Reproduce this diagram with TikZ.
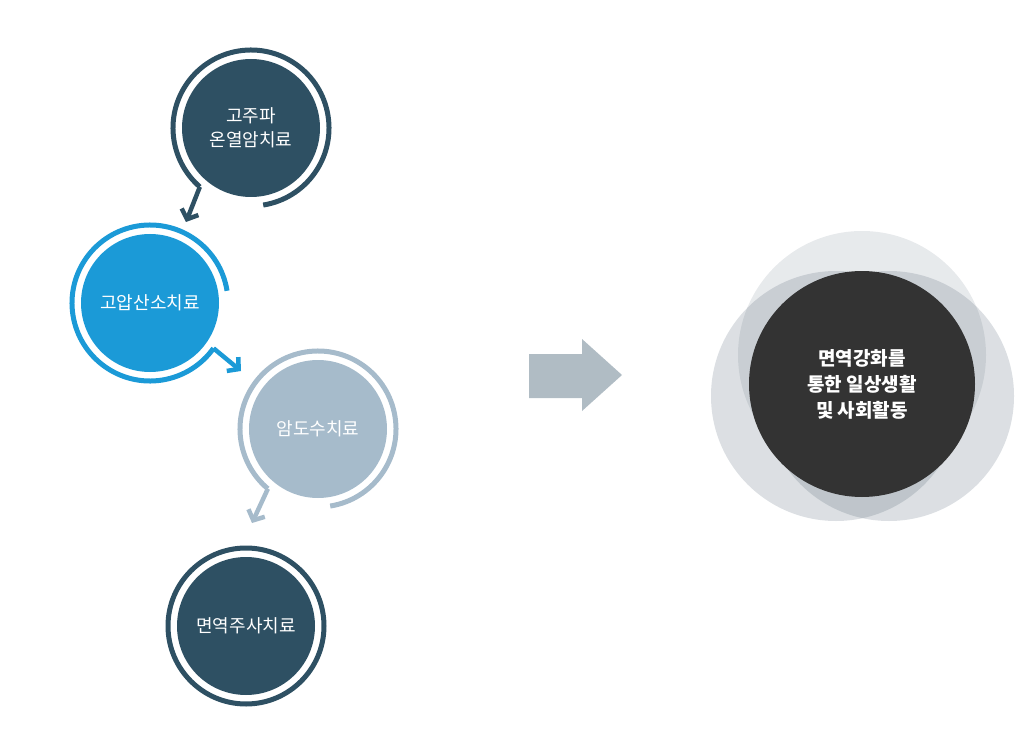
\documentclass[tikz,border=0pt]{standalone}
\usepackage{fontspec}
\newfontfamily\kr{Noto Sans CJK KR}
\usetikzlibrary{arrows.meta}
\definecolor{cdark}{HTML}{2E5063}
\definecolor{cblue}{HTML}{1B9AD7}
\definecolor{clight}{HTML}{A6BBCB}
\definecolor{cbig}{HTML}{B0BCC4}
\definecolor{cgray}{HTML}{3C5062}
\definecolor{ccore}{HTML}{333333}
\tikzset{
  core/.style={circle, inner sep=0pt, minimum size=138pt, text=white, align=center,
    font=\kr\fontsize{18}{24}\selectfont},
  ring/.style={line width=5pt},
  tipped/.style={line width=4.5pt, -{Straight Barb[length=8pt,width=18pt]}},
  halo/.style={fill=cgray, fill opacity=#1},
}
\begin{document}
\begin{tikzpicture}[x=1pt,y=-1pt]
\useasboundingbox (0,0) rectangle (1020,738);
% circle 1
\node[core, fill=cdark] (c1) at (251,128) {고주파\\온열암치료};
\coordinate (t1) at (186,222);
\draw[ring, cdark] (c1.center) ++(81:78) arc[start angle=81, end angle=-229, radius=78] coordinate (e1);
\draw[tipped, cdark] (e1) -- (t1);
% circle 2
\node[core, fill=cblue] (c2) at (150,303) {고압산소치료};
\coordinate (t2) at (241,371);
\draw[ring, cblue] (c2.center) ++(-9:78) arc[start angle=-9, end angle=-324.5, radius=78] coordinate (e2);
\draw[tipped, cblue] (e2) -- (t2);
% circle 3
\node[core, fill=clight] (c3) at (318,429) {암도수치료};
\coordinate (t3) at (252,523);
\draw[ring, clight] (c3.center) ++(81:78) arc[start angle=81, end angle=-230, radius=78] coordinate (e3);
\draw[tipped, clight] (e3) -- (t3);
% circle 4
\node[core, fill=cdark] (c4) at (246,626) {면역주사치료};
\draw[ring, cdark] (c4.center) circle[radius=78];
% big arrow
\fill[cbig] (529,354) -- (582,354) -- (582,339) -- (622,375) -- (582,411) -- (582,398) -- (529,398) -- cycle;
% right halo circles
\fill[halo=0.12] (862,355) circle[radius=124];
\fill[halo=0.18] (836,396) circle[radius=125];
\fill[halo=0.18] (889,396) circle[radius=125];
\node[circle, fill=ccore, inner sep=0pt, minimum size=226pt, text=white, align=center,
  font=\kr\bfseries\fontsize{19}{26}\selectfont] (goal) at (862,384) {면역강화를\\통한 일상생활\\및 사회활동};
\end{tikzpicture}
\end{document}
